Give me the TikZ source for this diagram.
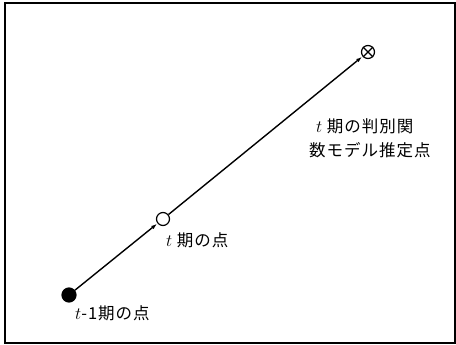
\documentclass[tikz,border=0pt]{standalone}
\usepackage{fontspec}
\newfontfamily\cjk[LetterSpace=6]{Noto Sans CJK JP}
\usetikzlibrary{arrows.meta}
\begin{document}
\begin{tikzpicture}[x=1pt,y=1pt,
  pt/.style={circle,draw,line width=1.2pt,inner sep=0pt},
  conn/.style={line width=1.4pt,-{Latex[length=6pt,width=4pt]},shorten >=0.5pt},
  lbl/.style={anchor=west,inner sep=0pt,font=\fontsize{16.5}{19}\selectfont\cjk}]
\useasboundingbox (0,0) rectangle (456,345);
\draw[line width=1.2pt] (5,2) rectangle (455,342);
\node[pt,fill=black,minimum size=14pt] (p0) at (69,50) {};
\node[pt,fill=white,minimum size=13pt] (p1) at (163,126) {};
\node[pt,fill=white,minimum size=13pt] (p2) at (368,293) {};
\draw[line width=1.2pt] (p2.45) -- (p2.225) (p2.135) -- (p2.315);
\draw[conn] (p0) -- (p1);
\draw[conn] (p1) -- (p2);
\node[lbl] (l0) at (75,32) {$t$-1期の点};
\node[lbl] (l1) at (166,105) {$t$ 期の点};
\node[lbl] (l2) at (316,219) {$t$ 期の判別関};
\node[lbl] (l3) at (309,195) {数モデル推定点};
\end{tikzpicture}
\end{document}
